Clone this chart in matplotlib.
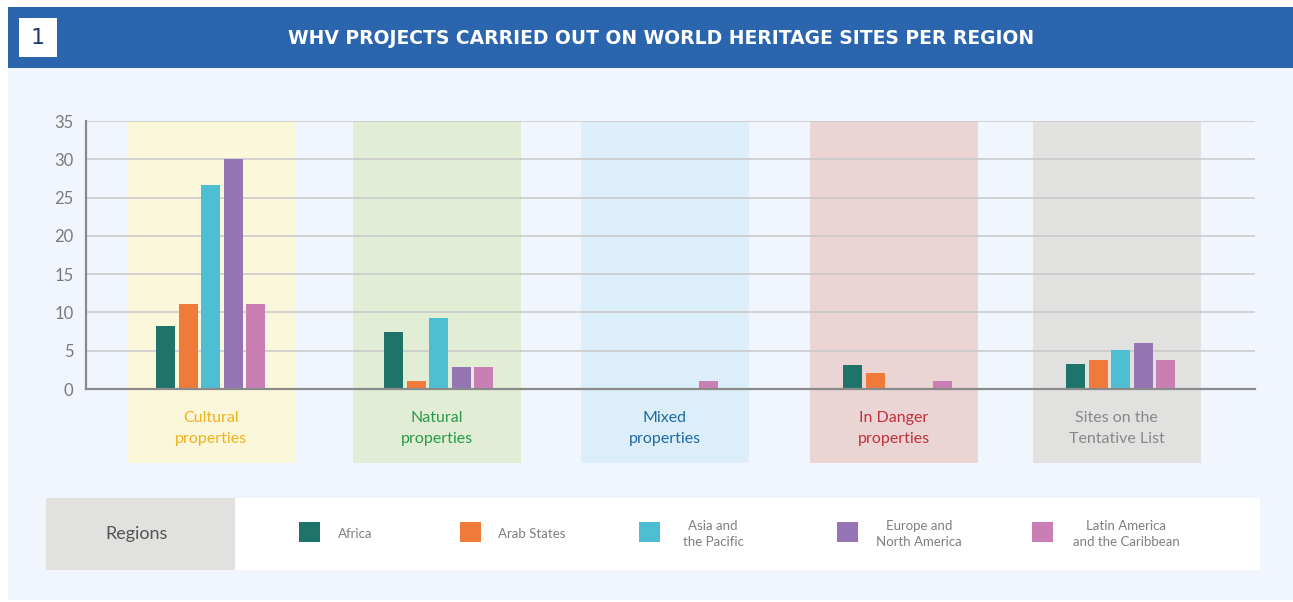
import matplotlib
matplotlib.use("Agg")
import matplotlib.pyplot as plt
from matplotlib.patches import Rectangle
import numpy as np

W, H = 1293, 602

title = "WHV PROJECTS CARRIED OUT ON WORLD HERITAGE SITES PER REGION"
categories = ["Cultural\nproperties", "Natural\nproperties", "Mixed\nproperties",
              "In Danger\nproperties", "Sites on the\nTentative List"]
regions = ["Africa", "Arab States", "Asia and\nthe Pacific",
           "Europe and\nNorth America", "Latin America\nand the Caribbean"]
africa = [8.2, 7.4, 0, 3.1, 3.3]
arab_states = [11.1, 1.0, 0, 2.1, 3.8]
asia_pacific = [26.6, 9.3, 0, 0, 5.1]
europe_na = [30, 2.9, 0, 0, 6.0]
latin_america = [11.1, 2.9, 1.0, 1.0, 3.8]
series = [africa, arab_states, asia_pacific, europe_na, latin_america]
yticks = [0, 5, 10, 15, 20, 25, 30, 35]

region_colors = ["#1e746b", "#f07a3a", "#4ebed3", "#9575b3", "#c97fb3"]
band_colors = ["#fbf7da", "#e1edd5", "#dbeefa", "#ead4d4", "#e1e1e0"]
label_colors = ["#f0b21a", "#2a9a4c", "#1f6aa3", "#c0313a", "#888888"]

# layout: slot centres (in pixel-like x units of the axes) for bands and bar groups
band_slots = [211, 436.5, 664.5, 893.5, 1116.5]
group_slots = [210.5, 438.5, 663.5, 897.5, 1120.5]

fig = plt.figure(figsize=(W / 100, H / 100), dpi=100)
fig.patch.set_facecolor("white")

def fx(px):
    return px / W

def fy(py):
    return 1 - py / H

def frect(x0, y0, x1, y1, color, z=0):
    fig.add_artist(Rectangle((fx(x0), fy(y1)), fx(x1) - fx(x0), fy(y0) - fy(y1),
                             transform=fig.transFigure, facecolor=color,
                             edgecolor="none", zorder=z))

# background panel and header
frect(8, 68, W, 600, "#f1f5fd", z=-10)
frect(8, 7, W, 68, "#2b65ae", z=-9)
frect(19, 18, 57, 57, "white", z=-8)
fig.text(fx(38), fy(38), "1", ha="center", va="center", color="#1f3a6b",
         fontsize=16, family="DejaVu Sans")
fig.text(fx(661), fy(39), title, ha="center", va="center", color="white",
         fontsize=13.5, fontweight="bold", family="DejaVu Sans")

# main axes
ax_left, ax_right, ax_top, ax_bottom = 86, 1255, 121, 389
ax = fig.add_axes([fx(ax_left), fy(ax_bottom), fx(ax_right) - fx(ax_left),
                   fy(ax_top) - fy(ax_bottom)])
ax.set_facecolor("none")
ax.set_xlim(ax_left, ax_right)
ax.set_ylim(0, 35)

band_half = 84
band_bottom = -(463 - ax_bottom) / (ax_bottom - ax_top)
for i in range(len(categories)):
    ax.axvspan(band_slots[i] - band_half, band_slots[i] + band_half,
               ymin=band_bottom, ymax=1, facecolor=band_colors[i],
               edgecolor="none", zorder=0.1, clip_on=False)
    ax.text(band_slots[i], -5.2, categories[i], ha="center", va="center",
            color=label_colors[i], fontsize=11.5, family="Lato",
            linespacing=1.65)

gx = np.array(group_slots)
step = 22.5
bw = 19
for k, vals in enumerate(series):
    ax.bar(gx + (k - 2) * step, vals, width=bw, color=region_colors[k],
           zorder=2, linewidth=0)

ax.set_axisbelow(True)
ax.yaxis.grid(True, color="#c8c8c8", linewidth=1.1)
ax.set_yticks(yticks)
ax.set_xticks([])
ax.tick_params(axis="y", length=0, pad=9, labelsize=12, labelcolor="#7a7a7a")
for lab in ax.get_yticklabels():
    lab.set_family("Lato")
for s in ["top", "right"]:
    ax.spines[s].set_visible(False)
for s in ["left", "bottom"]:
    ax.spines[s].set_color("#8a8a8a")
    ax.spines[s].set_linewidth(1.6)
    ax.spines[s].set_zorder(3)

# legend
frect(46, 498, 1260, 570, "white", z=-7)
frect(46, 498, 235, 570, "#e1e1df", z=-6)
fig.text(fx(137), fy(534), "Regions", ha="center", va="center",
         color="#555555", fontsize=13, family="Lato")
sq_x = [299, 460, 639, 837, 1032]
txt_x = [355, 532, 713, 919, 1126]
for k in range(len(regions)):
    frect(sq_x[k], 522, sq_x[k] + 21, 542, region_colors[k], z=-5)
    fig.text(fx(txt_x[k]), fy(534), regions[k], ha="center", va="center",
             color="#7f7f7f", fontsize=9.5, family="Lato", linespacing=1.3)

fig.savefig("out.png", dpi=100, facecolor=fig.get_facecolor())
